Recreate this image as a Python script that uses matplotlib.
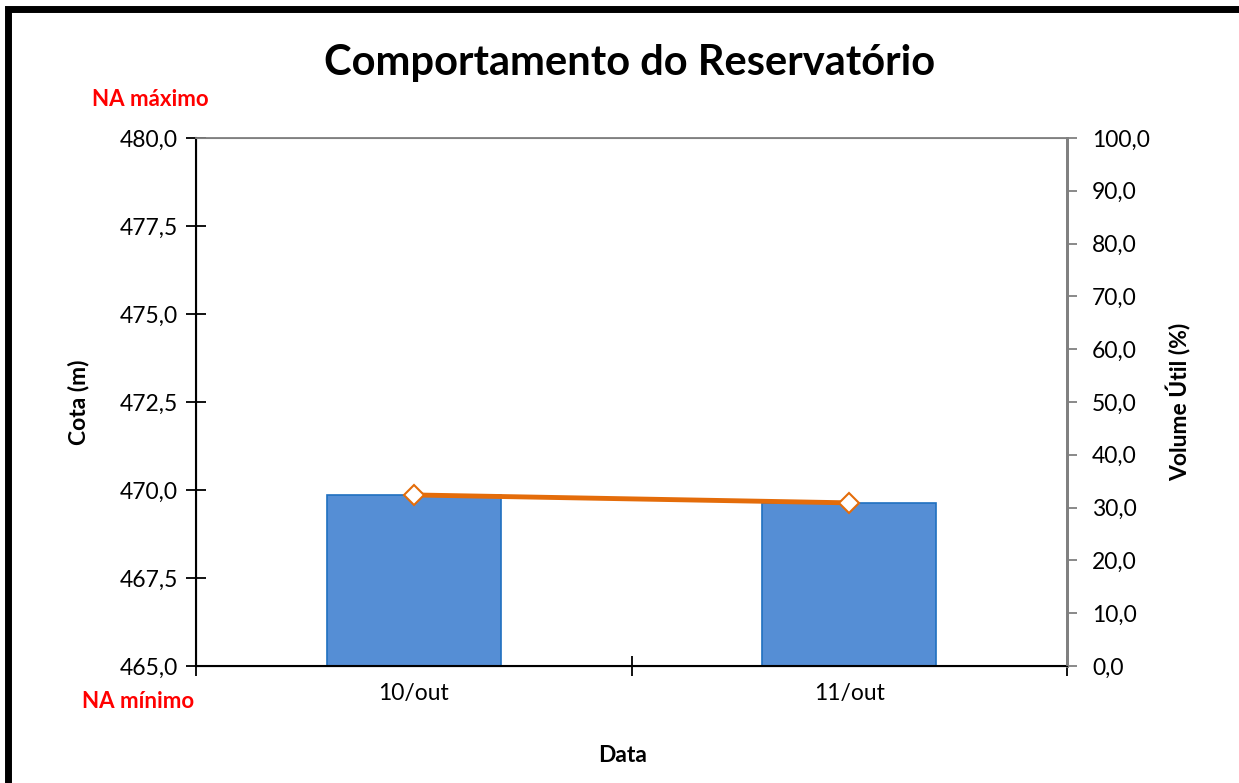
import matplotlib.pyplot as plt
from matplotlib.patches import Rectangle
from matplotlib.ticker import FuncFormatter

plt.rcParams['font.family'] = ['Lato', 'DejaVu Sans']

datas = ['10/out', '11/out']
cota = [469.86, 469.63]
volume = [32.4, 30.9]

fig = plt.figure(figsize=(12.39, 7.83), dpi=100)
ax = fig.add_axes([196/1239, 1-666/783, (1067-196)/1239, (666-138)/783])
x = list(range(len(datas)))

ax.bar(x, [c - 465 for c in cota], bottom=465, width=0.4,
       color='#558ed5', edgecolor='#1f70c0', linewidth=1.2, zorder=2)
ax.set_xlim(-0.5, 1.5)
ax.set_ylim(465, 480)
ax.set_yticks([465, 467.5, 470, 472.5, 475, 477.5, 480])
fmt = FuncFormatter(lambda v, p: f'{v:.1f}'.replace('.', ','))
ax.yaxis.set_major_formatter(fmt)
ax.set_xticks([-0.5, 0.5, 1.5])
ax.set_xticklabels(['', '', ''])
ax.set_xticks(x, minor=True)
ax.set_xticklabels(datas, minor=True)
ax.tick_params(axis='x', which='minor', length=0, pad=12, labelsize=16.5)
ax.tick_params(axis='x', which='major', direction='inout', length=14, width=1.3)
ax.tick_params(axis='y', direction='inout', length=14, width=1.3, labelsize=16.5, pad=6)
ax.spines['left'].set_linewidth(1.5)
ax.spines['bottom'].set_linewidth(1.5)
ax.spines['top'].set_color('#808080')
ax.spines['right'].set_color('#808080')
ax.spines['top'].set_linewidth(1.3)
ax.spines['right'].set_linewidth(2)
ax.set_ylabel('Cota (m)', fontsize=16.5, fontweight='bold', labelpad=22)

ax2 = ax.twinx()
ax2.plot(x, volume, color='#e46c0a', linewidth=3.5, marker='D', markersize=10,
         markerfacecolor='white', markeredgecolor='#e46c0a', markeredgewidth=1.5, zorder=3)
ax2.set_ylim(0, 100)
ax2.set_yticks(range(0, 101, 10))
ax2.yaxis.set_major_formatter(fmt)
ax2.tick_params(axis='y', direction='out', length=7, width=1.3, color='#808080',
                labelsize=16.5, pad=11)
ax2.spines['right'].set_color('#808080')
ax2.spines['right'].set_linewidth(2)
ax2.spines['top'].set_color('#808080')
ax2.set_ylabel('Volume Útil (%)', fontsize=16.5, fontweight='bold', labelpad=12)

fig.text(630/1239, 1-63/783, 'Comportamento do Reservatório', fontsize=30,
         fontweight='bold', ha='center', va='center')
fig.text(623/1239, 1-755/783, 'Data', fontsize=16.5, fontweight='bold',
         ha='center', va='center')
fig.text(150/1239, 1-99/783, 'NA máximo', fontsize=16, fontweight='bold',
         color='#ff0000', ha='center', va='center')
fig.text(138/1239, 1-702/783, 'NA mínimo', fontsize=16, fontweight='bold',
         color='#ff0000', ha='center', va='center')

fig.patches.append(Rectangle((8/1239, -0.05), 1.2, 1.05 - 9/783, transform=fig.transFigure,
                             fill=False, edgecolor='black', linewidth=5))

fig.savefig('out.png', dpi=100)
